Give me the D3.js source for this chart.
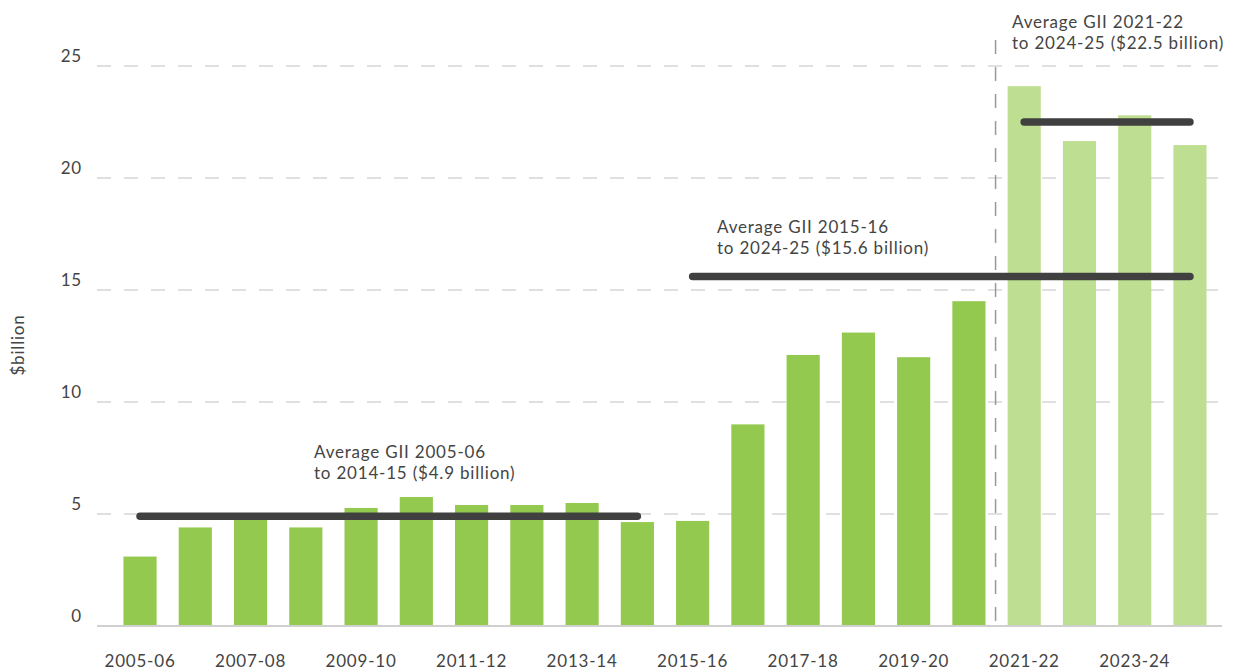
<!DOCTYPE html>
<html>
<head>
<meta charset="utf-8">
<script src="https://cdn.jsdelivr.net/npm/d3@7"></script>
<style>
  body { margin: 0; background: #fff; }
  svg { display: block; font-family: Lato, sans-serif; letter-spacing: 0.8px; }
</style>
</head>
<body>
<div id="chart"></div>
<script>
const years = ["2005-06", "2006-07", "2007-08", "2008-09", "2009-10", "2010-11", "2011-12",
  "2012-13", "2013-14", "2014-15", "2015-16", "2016-17", "2017-18", "2018-19", "2019-20",
  "2020-21", "2021-22", "2022-23", "2023-24", "2024-25"];
const values = [3.1, 4.4, 4.9, 4.4, 5.27, 5.76, 5.4, 5.4, 5.49, 4.64, 4.69, 9.0, 12.1, 13.1, 12.0,
  14.5, 24.1, 21.65, 22.8, 21.47];
const forecastFrom = "2021-22";
const yTicks = [0, 5, 10, 15, 20, 25];
const xLabels = ["2005-06", "2007-08", "2009-10", "2011-12", "2013-14", "2015-16", "2017-18",
  "2019-20", "2021-22", "2023-24"];
const averages = [
  { from: "2005-06", to: "2014-15", value: 4.9, lines: ["Average GII 2005-06", "to 2014-15 ($4.9 billion)"], lx: 314, ly: 458 },
  { from: "2015-16", to: "2024-25", value: 15.6, lines: ["Average GII 2015-16", "to 2024-25 ($15.6 billion)"], lx: 717, ly: 233 },
  { from: "2021-22", to: "2024-25", value: 22.5, lines: ["Average GII 2021-22", "to 2024-25 ($22.5 billion)"], lx: 1012, ly: 28 }
];

const width = 1238, height = 671;
const textColor = "#444";
const fontSize = 17;

const svg = d3.select("#chart").append("svg")
  .attr("width", width)
  .attr("height", height);

const x = d3.scaleBand()
  .domain(years)
  .range([112.4, 1217.6])
  .paddingInner(0.4)
  .paddingOuter(0.2);

const y = d3.scaleLinear()
  .domain([0, 25])
  .range([626, 66]);

// gridlines
svg.append("g")
  .selectAll("line")
  .data(yTicks.filter(d => d > 0))
  .join("line")
  .attr("x1", 97).attr("x2", 1222)
  .attr("y1", d => y(d)).attr("y2", d => y(d))
  .attr("stroke", "#d6d6d6")
  .attr("stroke-width", 1.5)
  .attr("stroke-dasharray", "14,13");

// y tick labels
svg.append("g")
  .selectAll("text")
  .data(yTicks)
  .join("text")
  .attr("x", 82)
  .attr("y", d => y(d) - 4)
  .attr("text-anchor", "end")
  .attr("fill", textColor)
  .attr("font-size", fontSize)
  .text(d => d);

svg.append("text")
  .attr("transform", "translate(24,345) rotate(-90)")
  .attr("text-anchor", "middle")
  .attr("fill", textColor)
  .attr("font-size", fontSize)
  .text("$billion");

// bars
const fIdx = years.indexOf(forecastFrom);
svg.append("g")
  .selectAll("rect")
  .data(years.map((d, i) => ({ year: d, value: values[i], forecast: i >= fIdx })))
  .join("rect")
  .attr("x", d => x(d.year))
  .attr("width", x.bandwidth())
  .attr("y", d => y(d.value))
  .attr("height", d => y(0) - y(d.value))
  .attr("fill", d => d.forecast ? "#bedf92" : "#93c94e");

// baseline
svg.append("line")
  .attr("x1", 97).attr("x2", 1222)
  .attr("y1", y(0)).attr("y2", y(0))
  .attr("stroke", "#d0d0d0")
  .attr("stroke-width", 2);

// forecast divider
const divX = (x(years[fIdx - 1]) + x.bandwidth() + x(forecastFrom)) / 2 - 1;
svg.append("line")
  .attr("x1", divX).attr("x2", divX)
  .attr("y1", 40).attr("y2", y(0))
  .attr("stroke", "#999")
  .attr("stroke-width", 1.5)
  .attr("stroke-dasharray", "14,13");

// x labels
svg.append("g")
  .selectAll("text")
  .data(xLabels)
  .join("text")
  .attr("x", d => x(d) + x.bandwidth() / 2)
  .attr("y", 667)
  .attr("text-anchor", "middle")
  .attr("fill", textColor)
  .attr("font-size", fontSize)
  .text(d => d);

// average lines
svg.append("g")
  .selectAll("line")
  .data(averages)
  .join("line")
  .attr("x1", d => x(d.from) + x.bandwidth() / 2)
  .attr("x2", d => x(d.to) + x.bandwidth() / 2)
  .attr("y1", d => y(d.value)).attr("y2", d => y(d.value))
  .attr("stroke", "#404040")
  .attr("stroke-width", 7.5)
  .attr("stroke-linecap", "round");

// annotations
const notes = svg.append("g")
  .selectAll("text")
  .data(averages)
  .join("text")
  .attr("x", d => d.lx)
  .attr("y", d => d.ly)
  .attr("fill", textColor)
  .attr("font-size", fontSize);
notes.selectAll("tspan")
  .data(d => d.lines.map((t, i) => ({ t, i, lx: d.lx })))
  .join("tspan")
  .attr("x", d => d.lx)
  .attr("dy", d => d.i === 0 ? 0 : 21)
  .text(d => d.t);
</script>
</body>
</html>
